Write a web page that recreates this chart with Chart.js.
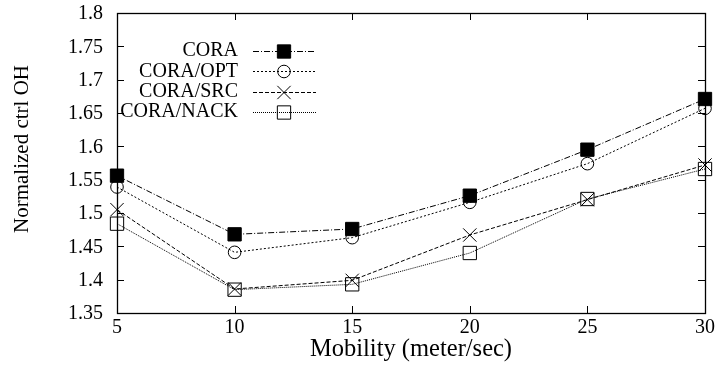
<!DOCTYPE html>
<html>
<head>
<meta charset="utf-8">
<script src="https://cdn.jsdelivr.net/npm/chart.js@4/dist/chart.umd.min.js"></script>
<style>
  body { margin: 0; background: #fff; }
  canvas { display: block; }
</style>
</head>
<body>
<canvas id="chart" width="718" height="383"></canvas>
<script>
const mobility = [5, 10, 15, 20, 25, 30];
const cora = [1.556, 1.468, 1.476, 1.526, 1.595, 1.671];
const coraOpt = [1.539, 1.441, 1.463, 1.516, 1.574, 1.657];
const coraSrc = [1.505, 1.386, 1.399, 1.467, 1.52, 1.572];
const coraNack = [1.484, 1.385, 1.393, 1.44, 1.521, 1.566];

const xTicks = [5, 10, 15, 20, 25, 30];
const xTickLabels = ["5", "10", "15", "20", "25", "30"];
const yTicks = [1.35, 1.4, 1.45, 1.5, 1.55, 1.6, 1.65, 1.7, 1.75, 1.8];
const yTickLabels = ["1.35", "1.4", "1.45", "1.5", "1.55", "1.6", "1.65", "1.7", "1.75", "1.8"];

const seriesNames = ["CORA", "CORA/OPT", "CORA/SRC", "CORA/NACK"];
const xTitle = "Mobility (meter/sec)";
const yTitle = "Normalized ctrl OH";

const serif = "'Liberation Serif', 'Times New Roman', serif";

const points = (ys) => mobility.map((x, i) => ({ x, y: ys[i] }));

const makeSet = (label, ys, dash, style, radius, fill) => ({
  label,
  data: points(ys),
  borderColor: "#000",
  borderWidth: 1,
  borderDash: dash,
  pointStyle: style,
  pointRadius: radius,
  pointBorderWidth: 1,
  pointBorderColor: "#000",
  pointBackgroundColor: fill,
  backgroundColor: fill,
  fill: false,
  tension: 0,
  clip: false,
});

const datasets = [
  makeSet(seriesNames[0], cora, [6, 2, 1, 2], "rect", 9.4, "#000"),
  makeSet(seriesNames[1], coraOpt, [2, 2], "circle", 6.3, "rgba(0,0,0,0)"),
  makeSet(seriesNames[2], coraSrc, [4, 2], "crossRot", 9.4, "rgba(0,0,0,0)"),
  makeSet(seriesNames[3], coraNack, [1, 1], "rect", 9.4, "rgba(0,0,0,0)"),
];

function text(ctx, str, x, y, size, align, rotate) {
  ctx.save();
  ctx.translate(x, y);
  if (rotate) ctx.rotate(-Math.PI / 2);
  ctx.font = size + "px " + serif;
  ctx.textAlign = align;
  ctx.textBaseline = "middle";
  ctx.fillStyle = "#000";
  ctx.fillText(str, 0, 0);
  ctx.restore();
}

// frame, inward ticks, tick labels, titles and the legend in gnuplot style
const gnuplotLook = {
  id: "gnuplotLook",
  afterDraw(chart) {
    const { ctx, chartArea: a, scales } = chart;
    const tick = 7;
    ctx.save();
    ctx.strokeStyle = "#000";
    ctx.lineWidth = 1;
    ctx.setLineDash([]);
    ctx.beginPath();
    xTicks.forEach((v) => {
      const px = Math.round(scales.x.getPixelForValue(v)) + 0.5;
      ctx.moveTo(px, a.bottom); ctx.lineTo(px, a.bottom - tick);
      ctx.moveTo(px, a.top); ctx.lineTo(px, a.top + tick);
    });
    yTicks.forEach((v) => {
      const py = Math.round(scales.y.getPixelForValue(v)) + 0.5;
      ctx.moveTo(a.left, py); ctx.lineTo(a.left + tick, py);
      ctx.moveTo(a.right, py); ctx.lineTo(a.right - tick, py);
    });
    ctx.stroke();
    ctx.lineWidth = 1.3;
    ctx.strokeRect(Math.round(a.left) + 0.5, Math.round(a.top) + 0.5, Math.round(a.right - a.left), Math.round(a.bottom - a.top));

    yTicks.forEach((v, i) => text(ctx, yTickLabels[i], a.left - 14, scales.y.getPixelForValue(v) + 1, 20, "right"));
    xTicks.forEach((v, i) => text(ctx, xTickLabels[i], scales.x.getPixelForValue(v), a.bottom + 15, 20, "center"));

    text(ctx, xTitle, (a.left + a.right) / 2, 350, 24.5, "center");
    text(ctx, yTitle, 22, 149, 21, "center", true);

    chart.data.datasets.forEach((ds, i) => {
      const y = 51 + i * 20.3;
      text(ctx, ds.label, 238, y, 20, "right");
      ctx.save();
      ctx.strokeStyle = "#000";
      ctx.lineWidth = 1;
      ctx.setLineDash(ds.borderDash);
      ctx.beginPath();
      ctx.moveTo(253, Math.round(y) + 0.5);
      ctx.lineTo(316, Math.round(y) + 0.5);
      ctx.stroke();
      ctx.restore();
      ctx.save();
      ctx.fillStyle = ds.pointBackgroundColor;
      ctx.strokeStyle = "#000";
      ctx.lineWidth = 1;
      Chart.helpers.drawPoint(ctx, { pointStyle: ds.pointStyle, radius: ds.pointRadius, rotation: 0, borderWidth: 1 }, 284, Math.round(y) + 0.5);
      ctx.restore();
    });
    ctx.restore();
  },
};

new Chart(document.getElementById("chart"), {
  type: "line",
  data: { datasets },
  options: {
    responsive: false,
    animation: false,
    devicePixelRatio: 1,
    layout: { padding: { top: 13, right: 13, left: 0, bottom: 0 } },
    plugins: { legend: { display: false }, tooltip: { enabled: false } },
    scales: {
      x: {
        type: "linear",
        min: 5,
        max: 30,
        afterBuildTicks: (s) => { s.ticks = xTicks.map((v) => ({ value: v })); },
        afterFit: (s) => { s.height = 70; },
        grid: { display: false, drawTicks: false },
        border: { display: false },
        ticks: { display: false },
      },
      y: {
        type: "linear",
        min: 1.35,
        max: 1.8,
        afterBuildTicks: (s) => { s.ticks = yTicks.map((v) => ({ value: v })); },
        afterFit: (s) => { s.width = 117; },
        grid: { display: false, drawTicks: false },
        border: { display: false },
        ticks: { display: false },
      },
    },
  },
  plugins: [gnuplotLook],
});
</script>
</body>
</html>
